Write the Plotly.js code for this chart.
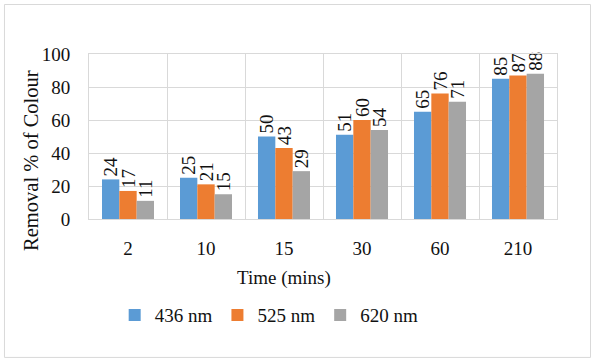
<!DOCTYPE html>
<html>
<head>
<meta charset="utf-8">
<script src="https://cdn.plot.ly/plotly-3.0.1.min.js"></script>
<style>
html,body{margin:0;padding:0;background:#fff;}
#chart{width:593px;height:360px;}
</style>
</head>
<body>
<div id="chart"></div>
<script>
var categories = ["2", "10", "15", "30", "60", "210"];
var seriesNames = ["436 nm", "525 nm", "620 nm"];
var values436 = [24, 25, 50, 51, 65, 85];
var values525 = [17, 21, 43, 60, 76, 87];
var values620 = [11, 15, 29, 54, 71, 88];
var colors = ["#5B9BD5", "#ED7D31", "#A5A5A5"];
var yTickVals = [0, 20, 40, 60, 80, 100];

var FONT = "Liberation Serif";
var TXT = "#111111";

var seriesValues = [values436, values525, values620];
var traces = seriesValues.map(function (vals, i) {
  return {
    type: "bar",
    name: seriesNames[i],
    x: categories,
    y: vals,
    marker: { color: colors[i], line: { width: 0 } },
    text: vals.map(String),
    textposition: "outside",
    textangle: -90,
    constraintext: "none",
    cliponaxis: false,
    textfont: { family: FONT, size: 19, color: TXT },
    outsidetextfont: { family: FONT, size: 19, color: TXT },
    hoverinfo: "skip"
  };
});

var layout = {
  width: 593,
  height: 360,
  margin: { l: 89, r: 36, t: 54, b: 141, pad: 0 },
  paper_bgcolor: "#ffffff",
  plot_bgcolor: "#ffffff",
  barmode: "group",
  bargap: 0.333,
  bargroupgap: 0,
  showlegend: true,
  font: { family: FONT, size: 19, color: TXT },
  xaxis: {
    type: "category",
    categoryorder: "array",
    categoryarray: categories,
    tickson: "boundaries",
    showgrid: true,
    gridcolor: "#D9D9D9",
    gridwidth: 1,
    showline: true,
    mirror: true,
    linecolor: "#D9D9D9",
    linewidth: 1,
    ticks: "",
    ticklabelstandoff: 12,
    tickfont: { family: FONT, size: 19, color: TXT },
    fixedrange: true
  },
  yaxis: {
    range: [0, 100],
    tickvals: yTickVals,
    ticktext: yTickVals.map(String),
    showgrid: true,
    gridcolor: "#D9D9D9",
    gridwidth: 1,
    zeroline: true,
    zerolinecolor: "#D9D9D9",
    showline: true,
    mirror: true,
    linecolor: "#D9D9D9",
    ticks: "",
    ticklabelstandoff: 14,
    tickfont: { family: FONT, size: 19, color: TXT },
    fixedrange: true
  },
  legend: {
    orientation: "h",
    x: 0.385,
    xanchor: "center",
    y: -0.582,
    yanchor: "middle",
    font: { family: FONT, size: 19, color: TXT },
    itemwidth: 30,
    bgcolor: "rgba(0,0,0,0)"
  },
  annotations: [
    {
      text: "Removal % of Colour",
      xref: "paper", yref: "paper",
      x: -0.124, y: 0.358,
      xanchor: "center", yanchor: "middle",
      textangle: -90,
      showarrow: false,
      font: { family: FONT, size: 20.5, color: TXT }
    },
    {
      text: "Time (mins)",
      xref: "paper", yref: "paper",
      x: 0.4177, y: -0.3576,
      xanchor: "center", yanchor: "middle",
      showarrow: false,
      font: { family: FONT, size: 19, color: TXT }
    }
  ],
  shapes: [
    {
      type: "rect",
      xref: "paper", yref: "paper",
      x0: -0.1806, x1: 1.0716,
      y0: -0.839, y1: 1.3,
      line: { color: "#D9D9D9", width: 1 },
      fillcolor: "rgba(0,0,0,0)",
      layer: "below"
    }
  ]
};

Plotly.newPlot("chart", traces, layout, { displayModeBar: false, staticPlot: true });
</script>
</body>
</html>
